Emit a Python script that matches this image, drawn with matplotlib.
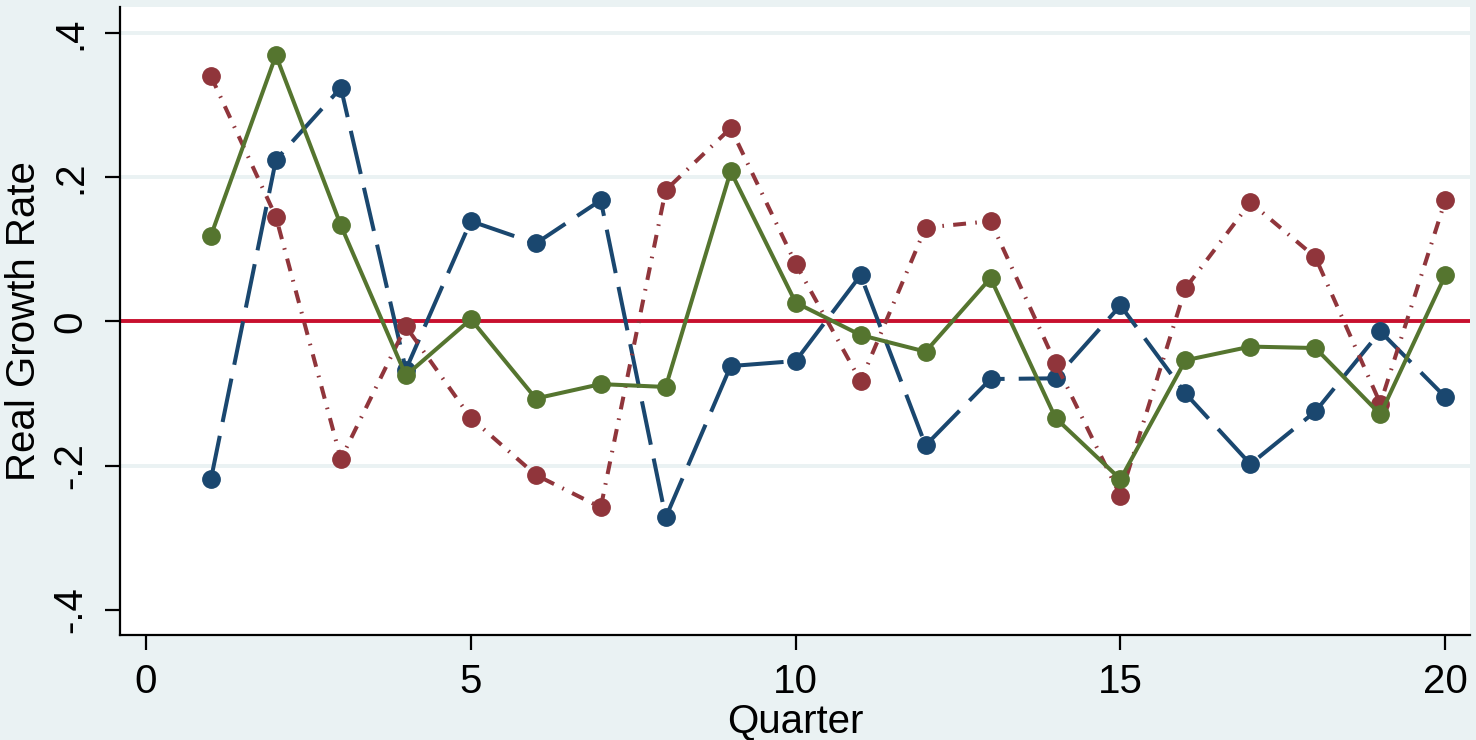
import matplotlib
matplotlib.use("Agg")
import matplotlib.pyplot as plt
import numpy as np

# quarterly real growth rates, three series
quarter = np.arange(1, 21)
blue = [-0.219, 0.224, 0.324, -0.067, 0.139, 0.108, 0.168, -0.272, -0.062, -0.055,
        0.064, -0.172, -0.080, -0.079, 0.022, -0.100, -0.198, -0.125, -0.014, -0.105]
red = [0.340, 0.145, -0.191, -0.007, -0.134, -0.213, -0.258, 0.182, 0.268, 0.080,
       -0.083, 0.130, 0.139, -0.058, -0.242, 0.046, 0.165, 0.089, -0.114, 0.168]
green = [0.119, 0.369, 0.133, -0.075, 0.003, -0.107, -0.087, -0.091, 0.208, 0.026,
         -0.019, -0.042, 0.060, -0.134, -0.219, -0.054, -0.035, -0.037, -0.129, 0.064]

yticks = [-0.4, -0.2, 0, 0.2, 0.4]
ylabels = ['-.4', '-.2', '0', '.2', '.4']
xticks = [0, 5, 10, 15, 20]

plt.rcParams['font.family'] = ['Liberation Sans', 'DejaVu Sans']

bg = '#EAF2F3'
fig = plt.figure(figsize=(14.76, 7.4), dpi=100, facecolor=bg)
ax = fig.add_axes([120/1476, 105/740, 1350/1476, 628/740])
ax.set_facecolor('white')

for g in [-0.2, 0.2, 0.4]:
    ax.axhline(g, color=bg, lw=2.8, zorder=0)

ax.axhline(0, color='#C8102E', lw=2.8, zorder=1)

ms = 12.5
lw = 2.9
ax.plot(quarter, blue, color='#1A476F', lw=lw, dashes=(11, 3.5),
        marker='o', ms=ms, zorder=3)
ax.plot(quarter, red, color='#90353B', lw=lw, dashes=(3.2, 2.3, 0.4, 2.3),
        marker='o', ms=ms, zorder=3)
ax.plot(quarter, green, color='#55752F', lw=lw,
        marker='o', ms=ms, zorder=3)

ax.set_xlim(-0.4, 20.38)
ax.set_ylim(-0.435, 0.436)
ax.set_xticks(xticks)
ax.set_xticklabels([str(t) for t in xticks])
ax.set_yticks(yticks)
ax.set_yticklabels(ylabels, rotation=90, va='center')

for s in ['top', 'right']:
    ax.spines[s].set_visible(False)
for s in ['left', 'bottom']:
    ax.spines[s].set_linewidth(1.6)
    ax.spines[s].set_color('black')

ax.tick_params(axis='both', length=11, width=1.6, labelsize=29, pad=9)
ax.tick_params(axis='y', pad=11)

ax.set_ylabel('Real Growth Rate', fontsize=29, labelpad=6)
ax.set_xlabel('Quarter', fontsize=29, labelpad=1)

fig.savefig('out.png', dpi=100, facecolor=bg)
